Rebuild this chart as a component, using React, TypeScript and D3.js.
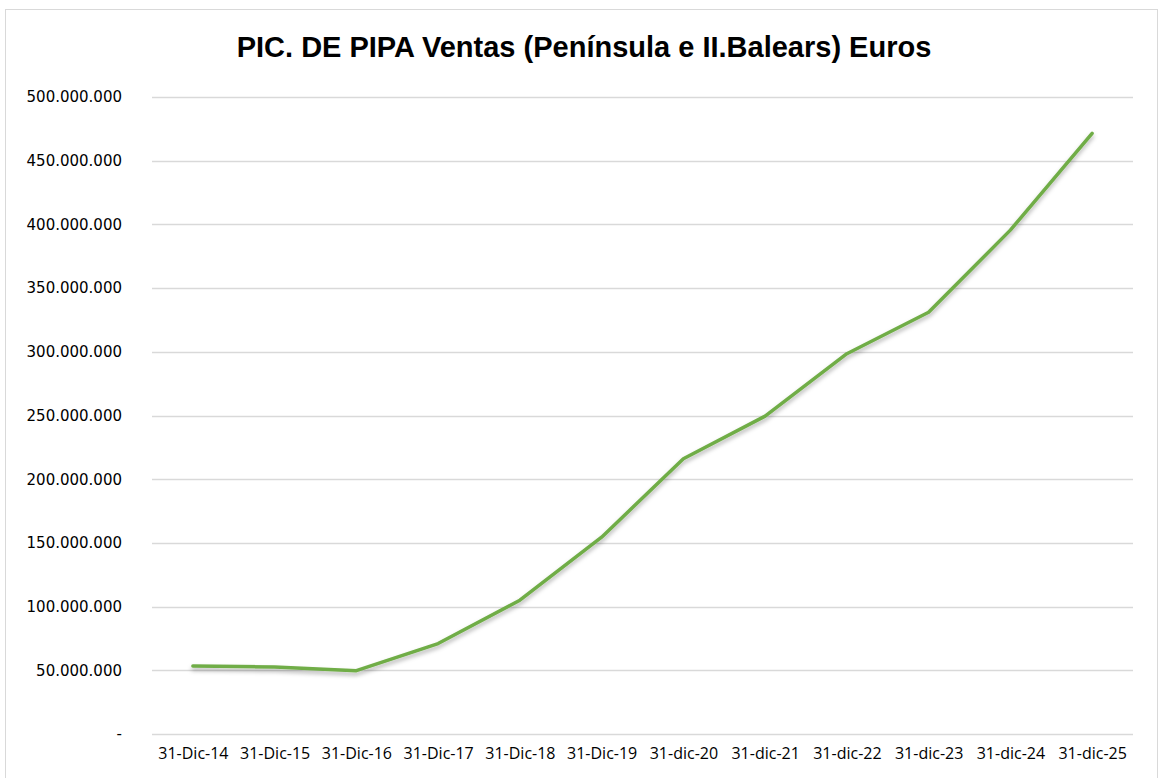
import React, { useEffect, useRef } from 'react'
import * as d3 from 'd3'

const title = 'PIC. DE PIPA Ventas (Península e II.Balears) Euros'
const fechas = ['31-Dic-14', '31-Dic-15', '31-Dic-16', '31-Dic-17', '31-Dic-18', '31-Dic-19',
  '31-dic-20', '31-dic-21', '31-dic-22', '31-dic-23', '31-dic-24', '31-dic-25']
const ventas = [53400000, 52600000, 49700000, 71000000, 105000000, 154500000,
  216000000, 249500000, 298500000, 331000000, 395500000, 471500000]
const yTicks = [0, 50000000, 100000000, 150000000, 200000000, 250000000,
  300000000, 350000000, 400000000, 450000000, 500000000]

const App = () => {
  const ref = useRef<SVGSVGElement>(null)

  useEffect(() => {
    const W = 1159, H = 778
    const margin = { top: 97, right: 26, bottom: 44, left: 152 }
    const width = W - margin.left - margin.right
    const height = H - margin.top - margin.bottom

    const svg = d3.select(ref.current)
    svg.selectAll('*').remove()

    // Drop shadow for the line
    const defs = svg.append('defs')
    const f = defs.append('filter').attr('id', 'shadow')
      .attr('x', '-5%').attr('y', '-5%').attr('width', '110%').attr('height', '120%')
    f.append('feDropShadow').attr('dx', 0).attr('dy', 3).attr('stdDeviation', 2)
      .attr('flood-color', '#000').attr('flood-opacity', 0.3)

    // chart frame
    svg.append('rect').attr('x', 5.5).attr('y', 9.5).attr('width', W - 7).attr('height', H)
      .attr('fill', '#fff').attr('stroke', '#d9d9d9')

    svg.append('text')
      .attr('x', 584).attr('y', 57)
      .attr('text-anchor', 'middle')
      .attr('font-family', 'Liberation Sans, Arial, sans-serif')
      .attr('font-weight', 'bold').attr('font-size', 29)
      .attr('fill', '#000')
      .text(title)

    const g = svg.append('g').attr('transform', `translate(${margin.left},${margin.top})`)

    const x = d3.scalePoint<string>().domain(fechas).range([0, width]).padding(0.5)
    const y = d3.scaleLinear().domain([0, 500000000]).range([height, 0])

    const loc = d3.formatLocale({ decimal: ',', thousands: '.', grouping: [3], currency: ['', '€'] })
    const fmt = loc.format(',.0f')

    // gridlines
    g.append('g').selectAll('line').data(yTicks).join('line')
      .attr('x1', 0).attr('x2', width)
      .attr('y1', d => Math.round(y(d)) + 0.5).attr('y2', d => Math.round(y(d)) + 0.5)
      .attr('stroke', '#d9d9d9').attr('stroke-width', 1.3)

    const yAxis = g.append('g')
      .call(d3.axisLeft(y).tickValues(yTicks).tickSize(0).tickPadding(30)
        .tickFormat(d => (+d === 0 ? '-' : fmt(+d))))
    yAxis.select('.domain').remove()
    yAxis.selectAll('text')
      .attr('font-family', 'DejaVu Sans, sans-serif').attr('font-size', 15).attr('fill', '#000')

    const xAxis = g.append('g').attr('transform', `translate(0,${height})`)
      .call(d3.axisBottom(x).tickSize(0).tickPadding(14))
    xAxis.select('.domain').remove()
    xAxis.selectAll('text')
      .attr('font-family', 'Open Sans, sans-serif').attr('font-size', 16).attr('fill', '#000')

    const line = d3.line<number>()
      .x((d, i) => x(fechas[i]) as number)
      .y(d => y(d))

    g.append('path')
      .datum(ventas)
      .attr('d', line)
      .attr('fill', 'none')
      .attr('stroke', '#70ad47')
      .attr('stroke-width', 3.5)
      .attr('stroke-linejoin', 'round')
      .attr('stroke-linecap', 'round')
      .attr('filter', 'url(#shadow)')
  }, [])

  return (
    <svg ref={ref} width={1159} height={778}
      style={{ position: 'absolute', left: 0, top: 0, display: 'block' }} />
  )
}

export default App
